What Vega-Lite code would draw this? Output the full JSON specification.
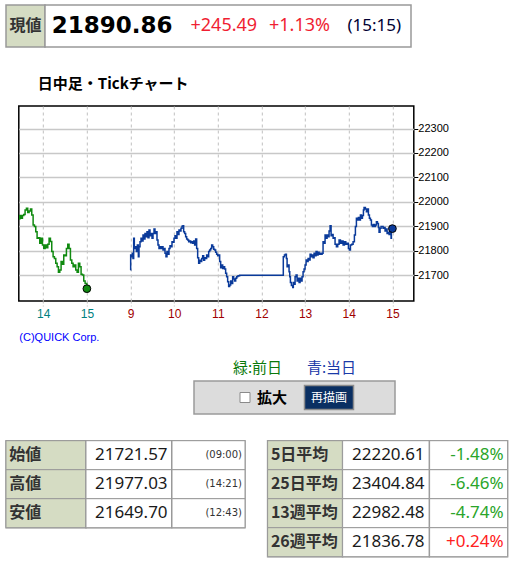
{
  "$schema": "https://vega.github.io/schema/vega-lite/v6.json",
  "background": "#ffffff",
  "padding": {"left": 4, "top": 4, "right": 0, "bottom": 0},
  "datasets": {
    "prev": [
      {"t":6.44,"v":21930},{"t":6.462,"v":21944},{"t":6.493,"v":21933},{"t":6.523,"v":21944},{"t":6.554,"v":21949},{"t":6.584,"v":21967},{"t":6.615,"v":21974},{"t":6.645,"v":21957},{"t":6.676,"v":21963},{"t":6.707,"v":21971},{"t":6.737,"v":21946},{"t":6.768,"v":21906},{"t":6.798,"v":21899},{"t":6.829,"v":21878},{"t":6.859,"v":21851},{"t":6.89,"v":21854},{"t":6.92,"v":21831},{"t":6.951,"v":21851},{"t":6.982,"v":21824},{"t":7.012,"v":21810},{"t":7.043,"v":21824},{"t":7.073,"v":21813},{"t":7.104,"v":21827},{"t":7.134,"v":21851},{"t":7.165,"v":21838},{"t":7.195,"v":21797},{"t":7.226,"v":21776},{"t":7.256,"v":21769},{"t":7.287,"v":21749},{"t":7.318,"v":21735},{"t":7.348,"v":21712},{"t":7.379,"v":21722},{"t":7.409,"v":21756},{"t":7.44,"v":21745},{"t":7.47,"v":21783},{"t":7.501,"v":21780},{"t":7.531,"v":21810},{"t":7.562,"v":21827},{"t":7.592,"v":21810},{"t":7.623,"v":21763},{"t":7.654,"v":21749},{"t":7.684,"v":21735},{"t":7.714,"v":21742},{"t":7.745,"v":21722},{"t":7.776,"v":21712},{"t":7.806,"v":21749},{"t":7.837,"v":21735},{"t":7.867,"v":21704},{"t":7.898,"v":21701},{"t":7.928,"v":21677},{"t":7.959,"v":21667},{"t":8.0,"v":21645.37}
    ],
    "today": [
      {"t":9.0,"v":21721.57},{"t":9.003,"v":21783},{"t":9.018,"v":21776},{"t":9.041,"v":21790},{"t":9.056,"v":21769},{"t":9.072,"v":21851},{"t":9.087,"v":21810},{"t":9.11,"v":21817},{"t":9.133,"v":21797},{"t":9.156,"v":21824},{"t":9.179,"v":21776},{"t":9.194,"v":21817},{"t":9.217,"v":21837},{"t":9.24,"v":21851},{"t":9.263,"v":21840},{"t":9.286,"v":21865},{"t":9.308,"v":21848},{"t":9.331,"v":21871},{"t":9.354,"v":21858},{"t":9.377,"v":21878},{"t":9.4,"v":21854},{"t":9.423,"v":21885},{"t":9.446,"v":21862},{"t":9.469,"v":21871},{"t":9.492,"v":21851},{"t":9.515,"v":21871},{"t":9.538,"v":21889},{"t":9.56,"v":21871},{"t":9.583,"v":21878},{"t":9.606,"v":21844},{"t":9.629,"v":21824},{"t":9.652,"v":21810},{"t":9.675,"v":21817},{"t":9.698,"v":21810},{"t":9.721,"v":21817},{"t":9.744,"v":21803},{"t":9.767,"v":21810},{"t":9.79,"v":21790},{"t":9.812,"v":21776},{"t":9.835,"v":21797},{"t":9.858,"v":21786},{"t":9.881,"v":21810},{"t":9.904,"v":21821},{"t":9.927,"v":21817},{"t":9.95,"v":21837},{"t":9.973,"v":21835},{"t":9.996,"v":21851},{"t":10.019,"v":21862},{"t":10.042,"v":21851},{"t":10.064,"v":21878},{"t":10.087,"v":21867},{"t":10.11,"v":21885},{"t":10.133,"v":21881},{"t":10.156,"v":21892},{"t":10.179,"v":21901},{"t":10.202,"v":21903},{"t":10.217,"v":21878},{"t":10.24,"v":21871},{"t":10.263,"v":21858},{"t":10.286,"v":21848},{"t":10.309,"v":21844},{"t":10.332,"v":21837},{"t":10.355,"v":21840},{"t":10.378,"v":21833},{"t":10.401,"v":21837},{"t":10.423,"v":21831},{"t":10.446,"v":21840},{"t":10.469,"v":21824},{"t":10.492,"v":21848},{"t":10.515,"v":21810},{"t":10.538,"v":21772},{"t":10.561,"v":21749},{"t":10.584,"v":21762},{"t":10.607,"v":21756},{"t":10.63,"v":21769},{"t":10.653,"v":21780},{"t":10.675,"v":21762},{"t":10.698,"v":21772},{"t":10.721,"v":21769},{"t":10.744,"v":21783},{"t":10.767,"v":21776},{"t":10.79,"v":21797},{"t":10.813,"v":21803},{"t":10.836,"v":21810},{"t":10.859,"v":21824},{"t":10.882,"v":21817},{"t":10.905,"v":21807},{"t":10.927,"v":21803},{"t":10.95,"v":21794},{"t":10.973,"v":21786},{"t":10.996,"v":21780},{"t":11.019,"v":21783},{"t":11.042,"v":21756},{"t":11.065,"v":21731},{"t":11.088,"v":21742},{"t":11.111,"v":21728},{"t":11.134,"v":21735},{"t":11.156,"v":21726},{"t":11.179,"v":21708},{"t":11.202,"v":21694},{"t":11.225,"v":21674},{"t":11.248,"v":21654},{"t":11.271,"v":21660},{"t":11.294,"v":21677},{"t":11.317,"v":21667},{"t":11.34,"v":21694},{"t":11.363,"v":21685},{"t":11.386,"v":21677},{"t":11.409,"v":21688},{"t":11.432,"v":21694},{"t":11.454,"v":21697},{"t":11.477,"v":21698},{"t":11.5,"v":21700},
      {"t":12.5,"v":21776},{"t":12.526,"v":21783},{"t":12.548,"v":21786},{"t":12.571,"v":21769},{"t":12.587,"v":21735},{"t":12.61,"v":21742},{"t":12.632,"v":21715},{"t":12.648,"v":21694},{"t":12.663,"v":21671},{"t":12.686,"v":21658},{"t":12.717,"v":21649.7},{"t":12.73,"v":21671},{"t":12.747,"v":21663},{"t":12.77,"v":21694},{"t":12.793,"v":21701},{"t":12.816,"v":21677},{"t":12.839,"v":21688},{"t":12.862,"v":21671},{"t":12.884,"v":21688},{"t":12.907,"v":21677},{"t":12.93,"v":21694},{"t":12.953,"v":21715},{"t":12.976,"v":21726},{"t":12.999,"v":21742},{"t":13.022,"v":21763},{"t":13.045,"v":21756},{"t":13.068,"v":21769},{"t":13.091,"v":21763},{"t":13.114,"v":21786},{"t":13.137,"v":21776},{"t":13.159,"v":21783},{"t":13.182,"v":21772},{"t":13.205,"v":21790},{"t":13.228,"v":21780},{"t":13.251,"v":21797},{"t":13.274,"v":21783},{"t":13.297,"v":21794},{"t":13.32,"v":21786},{"t":13.343,"v":21790},{"t":13.366,"v":21786},{"t":13.389,"v":21790},{"t":13.411,"v":21837},{"t":13.434,"v":21831},{"t":13.457,"v":21865},{"t":13.48,"v":21851},{"t":13.503,"v":21865},{"t":13.526,"v":21858},{"t":13.549,"v":21881},{"t":13.572,"v":21903},{"t":13.595,"v":21862},{"t":13.618,"v":21867},{"t":13.641,"v":21851},{"t":13.664,"v":21854},{"t":13.686,"v":21827},{"t":13.717,"v":21817},{"t":13.747,"v":21827},{"t":13.778,"v":21844},{"t":13.809,"v":21831},{"t":13.839,"v":21840},{"t":13.87,"v":21824},{"t":13.9,"v":21837},{"t":13.931,"v":21827},{"t":13.961,"v":21831},{"t":13.992,"v":21810},{"t":14.015,"v":21803},{"t":14.038,"v":21824},{"t":14.068,"v":21827},{"t":14.099,"v":21837},{"t":14.129,"v":21865},{"t":14.152,"v":21899},{"t":14.175,"v":21933},{"t":14.198,"v":21926},{"t":14.221,"v":21936},{"t":14.244,"v":21926},{"t":14.267,"v":21946},{"t":14.29,"v":21933},{"t":14.313,"v":21944},{"t":14.336,"v":21967},{"t":14.35,"v":21977.03},{"t":14.381,"v":21971},{"t":14.404,"v":21960},{"t":14.427,"v":21971},{"t":14.45,"v":21946},{"t":14.473,"v":21933},{"t":14.496,"v":21926},{"t":14.519,"v":21906},{"t":14.542,"v":21899},{"t":14.565,"v":21908},{"t":14.588,"v":21899},{"t":14.61,"v":21906},{"t":14.633,"v":21919},{"t":14.656,"v":21912},{"t":14.679,"v":21895},{"t":14.694,"v":21876},{"t":14.717,"v":21892},{"t":14.74,"v":21899},{"t":14.786,"v":21892},{"t":14.809,"v":21895},{"t":14.832,"v":21881},{"t":14.855,"v":21889},{"t":14.878,"v":21871},{"t":14.901,"v":21876},{"t":14.924,"v":21867},{"t":14.946,"v":21878},{"t":14.969,"v":21851},{"t":14.977,"v":21885},{"t":15.0,"v":21890.86}
    ],
    "last": [{"t":8.0,"v":21645.37,"d":"前日"},{"t":15.0,"v":21890.86,"d":"当日"}],
    "ohl": [{"r":"始値","v":"21721.57","tm":"(09:00)"},{"r":"高値","v":"21977.03","tm":"(14:21)"},{"r":"安値","v":"21649.70","tm":"(12:43)"}],
    "ma": [{"r":"5日平均","v":"22220.61","p":"-1.48%"},{"r":"25日平均","v":"23404.84","p":"-6.46%"},{"r":"13週平均","v":"22982.48","p":"-4.74%"},{"r":"26週平均","v":"21836.78","p":"+0.24%"}]
  },
  "spacing": 28,
  "vconcat": [
    {
      "spacing": 0,
      "bounds": "flush",
      "hconcat": [
        {
          "width": 39, "height": 42,
          "view": {"fill": "#d5dcc3", "stroke": "#999999", "strokeWidth": 1.5},
          "data": {"values": [{"k": "現値"}]},
          "mark": {"type": "text", "font": "Noto Sans CJK JP", "fontSize": 16, "fontWeight": "bold", "color": "#333333", "baseline": "middle"},
          "encoding": {"text": {"field": "k"}}
        },
        {
          "width": 366, "height": 42,
          "view": {"fill": "#ffffff", "stroke": "#999999", "strokeWidth": 1.5},
          "encoding": {"x": {"field": "k", "type": "nominal", "scale": {"type": "point", "domain": ["price", "chg", "pct", "time"], "range": [67, 302.5], "padding": 0}, "axis": null}},
          "layer": [
            {"data": {"values": [{"k": "price", "s": "21890.86"}]}, "mark": {"type": "text", "align": "center", "baseline": "middle", "font": "DejaVu Sans", "fontSize": 23, "fontWeight": "bold", "color": "#000000"}, "encoding": {"text": {"field": "s"}}},
            {"data": {"values": [{"k": "chg", "s": "+245.49"}, {"k": "pct", "s": "+1.13%"}]}, "mark": {"type": "text", "align": "left", "baseline": "middle", "font": "Noto Sans", "fontSize": 18, "color": "#f01e32"}, "encoding": {"text": {"field": "s"}}},
            {"data": {"values": [{"k": "time", "s": "(15:15)"}]}, "mark": {"type": "text", "align": "left", "baseline": "middle", "font": "Noto Sans", "fontSize": 17, "color": "#000033"}, "encoding": {"text": {"field": "s"}}}
          ]
        }
      ]
    },
    {
      "spacing": 11,
      "vconcat": [
        {
          "spacing": 10.8,
          "hconcat": [
            {"width": 1, "height": 1, "view": {"stroke": null}, "data": {"values": [{"k": ""}]}, "mark": {"type": "text"}, "encoding": {"text": {"field": "k"}}},
            {
              "width": 395, "height": 195,
              "view": {"stroke": "#000000", "strokeWidth": 1.5},
              "title": {"text": "日中足・Tickチャート", "anchor": "start", "frame": "group", "dx": 19, "offset": 14, "font": "Noto Sans CJK JP", "fontSize": 15, "fontWeight": "bold", "color": "#000000"},
              "encoding": {
                "x": {"field": "t", "type": "quantitative", "scale": {"domain": [6.44, 15.49], "nice": false, "zero": false},
                  "axis": {"values": [7, 8, 9, 10, 11, 12, 13, 14, 15], "labelExpr": "datum.value <= 8 ? datum.value + 7 : datum.value",
                    "labelColor": {"condition": {"test": "datum.value <= 8", "value": "#008080"}, "value": "#a00000"},
                    "grid": true, "gridColor": "#c0c0c0", "gridDash": [3, 3], "gridWidth": 1, "domain": false,
                    "ticks": true, "tickColor": "#c0c0c0", "tickDash": [2, 2], "tickSize": 5,
                    "labelFont": "Liberation Sans", "labelFontSize": 12, "labelPadding": 2,
                    "title": "(C)QUICK Corp.", "titleColor": "#0000ff", "titleFont": "Liberation Sans", "titleFontSize": 11, "titleFontWeight": "normal", "titleAnchor": "start", "titlePadding": 12}},
                "y": {"field": "v", "type": "quantitative", "scale": {"domain": [21595, 22392], "nice": false, "zero": false},
                  "axis": {"orient": "right", "values": [21700, 21800, 21900, 22000, 22100, 22200, 22300], "format": "d",
                    "grid": true, "gridColor": "#c8c8c8", "gridWidth": 1.3, "domain": false,
                    "tickColor": "#000000", "tickSize": 4, "labelFont": "Liberation Sans", "labelFontSize": 11, "labelColor": "#000000", "labelPadding": 0, "title": null}}
              },
              "layer": [
                {"data": {"name": "prev"}, "mark": {"type": "line", "interpolate": "step-after", "color": "#108a10", "strokeWidth": 1.5, "clip": true}, "encoding": {}},
                {"data": {"name": "today"}, "mark": {"type": "line", "interpolate": "step-after", "color": "#0a3a9a", "strokeWidth": 1.5, "clip": true}, "encoding": {}},
                {"data": {"name": "last"}, "mark": {"type": "point", "filled": true, "size": 60, "stroke": "#000000", "strokeWidth": 1, "opacity": 1},
                  "encoding": {"fill": {"field": "d", "type": "nominal", "scale": {"domain": ["前日", "当日"], "range": ["#108a10", "#0a3a9a"]}, "legend": null}}}
              ]
            }
          ]
        },
        {
          "spacing": 23.7,
          "vconcat": [
            {
              "spacing": 186,
              "hconcat": [
                {"width": 1, "height": 1, "view": {"stroke": null}, "data": {"values": [{"k": ""}]}, "mark": {"type": "text"}, "encoding": {"text": {"field": "k"}}},
                {
                  "spacing": 4,
                  "vconcat": [
                    {
                      "width": 201, "height": 15, "view": {"stroke": null},
                      "data": {"values": [{"k": "緑:前日"}, {"k": "青:当日"}]},
                      "mark": {"type": "text", "font": "Noto Sans CJK JP", "fontSize": 15, "baseline": "middle"},
                      "encoding": {
                        "x": {"field": "k", "type": "nominal", "scale": {"type": "point", "domain": ["緑:前日", "青:当日"], "padding": 0.858}, "axis": null},
                        "text": {"field": "k"},
                        "color": {"field": "k", "type": "nominal", "scale": {"domain": ["緑:前日", "青:当日"], "range": ["#0a7a0a", "#1a3aa8"]}, "legend": null}
                      }
                    },
                    {
                      "width": 201, "height": 33,
                      "view": {"fill": "#dcdcdc", "stroke": "#9a9a9a", "strokeWidth": 1.5},
                      "encoding": {"x": {"field": "k", "type": "nominal", "scale": {"type": "point", "domain": ["cb", "lbl", "btn"], "range": [51, 135], "padding": 0}, "axis": null}},
                      "layer": [
                        {"data": {"values": [{"k": "cb"}]}, "mark": {"type": "point", "shape": "square", "size": 100, "filled": true, "fill": "#ffffff", "stroke": "#8a8a8a", "strokeWidth": 1, "opacity": 1}},
                        {"data": {"values": [{"k": "lbl", "s": "拡大"}]}, "mark": {"type": "text", "align": "right", "font": "Noto Sans CJK JP", "fontSize": 15, "fontWeight": "bold", "color": "#000000", "baseline": "middle"}, "encoding": {"text": {"field": "s"}}},
                        {"data": {"values": [{"k": "btn"}]}, "mark": {"type": "point", "shape": "M-1,-0.49H1V0.49H-1Z", "size": 2401, "filled": true, "fill": "#0a2f62", "stroke": "#8c8c8c", "strokeWidth": 1.5, "opacity": 1}},
                        {"data": {"values": [{"k": "btn", "s": "再描画"}]}, "mark": {"type": "text", "font": "Noto Sans CJK JP", "fontSize": 12, "color": "#ffffff", "baseline": "middle"}, "encoding": {"text": {"field": "s"}}}
                      ]
                    }
                  ]
                }
              ]
            },
            {
              "spacing": 18.6,
              "hconcat": [
                {
                  "spacing": 0,
                  "bounds": "flush",
                  "hconcat": [
                    {
                      "width": 80, "height": 87, "data": {"name": "ohl"}, "view": {"stroke": "#999999", "strokeWidth": 1.5},
                      "encoding": {"y": {"field": "r", "type": "nominal", "sort": null, "scale": {"paddingInner": 0, "paddingOuter": 0}, "axis": null}},
                      "layer": [
                        {"mark": {"type": "rect", "fill": "#d5dcc3", "stroke": "#999999", "strokeWidth": 1}},
                        {"mark": {"type": "text", "align": "left", "dx": -36.7, "baseline": "middle", "font": "Noto Sans CJK JP", "fontSize": 16, "fontWeight": "bold", "color": "#333333"}, "encoding": {"text": {"field": "r"}}}
                      ]
                    },
                    {
                      "width": 85.6, "height": 87, "data": {"name": "ohl"}, "view": {"stroke": "#999999", "strokeWidth": 1.5},
                      "encoding": {"y": {"field": "r", "type": "nominal", "sort": null, "scale": {"paddingInner": 0, "paddingOuter": 0}, "axis": null}},
                      "layer": [
                        {"mark": {"type": "rect", "fill": "#ffffff", "stroke": "#999999", "strokeWidth": 1}},
                        {"mark": {"type": "text", "align": "right", "dx": 38.8, "baseline": "middle", "font": "Noto Sans", "fontSize": 17, "color": "#1a1a1a"}, "encoding": {"text": {"field": "v"}}}
                      ]
                    },
                    {
                      "width": 73, "height": 87, "data": {"name": "ohl"}, "view": {"stroke": "#999999", "strokeWidth": 1.5},
                      "encoding": {"y": {"field": "r", "type": "nominal", "sort": null, "scale": {"paddingInner": 0, "paddingOuter": 0}, "axis": null}},
                      "layer": [
                        {"mark": {"type": "rect", "fill": "#ffffff", "stroke": "#999999", "strokeWidth": 1}},
                        {"mark": {"type": "text", "align": "right", "dx": 33.5, "baseline": "middle", "font": "DejaVu Sans", "fontSize": 10, "color": "#333333"}, "encoding": {"text": {"field": "tm"}}}
                      ]
                    }
                  ]
                },
                {
                  "spacing": 0,
                  "bounds": "flush",
                  "hconcat": [
                    {
                      "width": 75, "height": 116, "data": {"name": "ma"}, "view": {"stroke": "#999999", "strokeWidth": 1.5},
                      "encoding": {"y": {"field": "r", "type": "nominal", "sort": null, "scale": {"paddingInner": 0, "paddingOuter": 0}, "axis": null}},
                      "layer": [
                        {"mark": {"type": "rect", "fill": "#d5dcc3", "stroke": "#999999", "strokeWidth": 1}},
                        {"mark": {"type": "text", "align": "left", "dx": -34.2, "baseline": "middle", "font": "Noto Sans CJK JP", "fontSize": 16, "fontWeight": "bold", "color": "#333333"}, "encoding": {"text": {"field": "r"}}}
                      ]
                    },
                    {
                      "width": 86.6, "height": 116, "data": {"name": "ma"}, "view": {"stroke": "#999999", "strokeWidth": 1.5},
                      "encoding": {"y": {"field": "r", "type": "nominal", "sort": null, "scale": {"paddingInner": 0, "paddingOuter": 0}, "axis": null}},
                      "layer": [
                        {"mark": {"type": "rect", "fill": "#ffffff", "stroke": "#999999", "strokeWidth": 1}},
                        {"mark": {"type": "text", "align": "right", "dx": 38.7, "baseline": "middle", "font": "Noto Sans", "fontSize": 17, "color": "#1a1a1a"}, "encoding": {"text": {"field": "v"}}}
                      ]
                    },
                    {
                      "width": 78, "height": 116, "data": {"name": "ma"}, "view": {"stroke": "#999999", "strokeWidth": 1.5},
                      "encoding": {"y": {"field": "r", "type": "nominal", "sort": null, "scale": {"paddingInner": 0, "paddingOuter": 0}, "axis": null}},
                      "layer": [
                        {"mark": {"type": "rect", "fill": "#ffffff", "stroke": "#999999", "strokeWidth": 1}},
                        {"mark": {"type": "text", "align": "right", "dx": 35, "baseline": "middle", "font": "Noto Sans", "fontSize": 17},
                          "encoding": {"text": {"field": "p"}, "color": {"condition": {"test": "datum.p < '-'", "value": "#ff2020"}, "value": "#2aa52a"}}}
                      ]
                    }
                  ]
                }
              ]
            }
          ]
        }
      ]
    }
  ]
}
